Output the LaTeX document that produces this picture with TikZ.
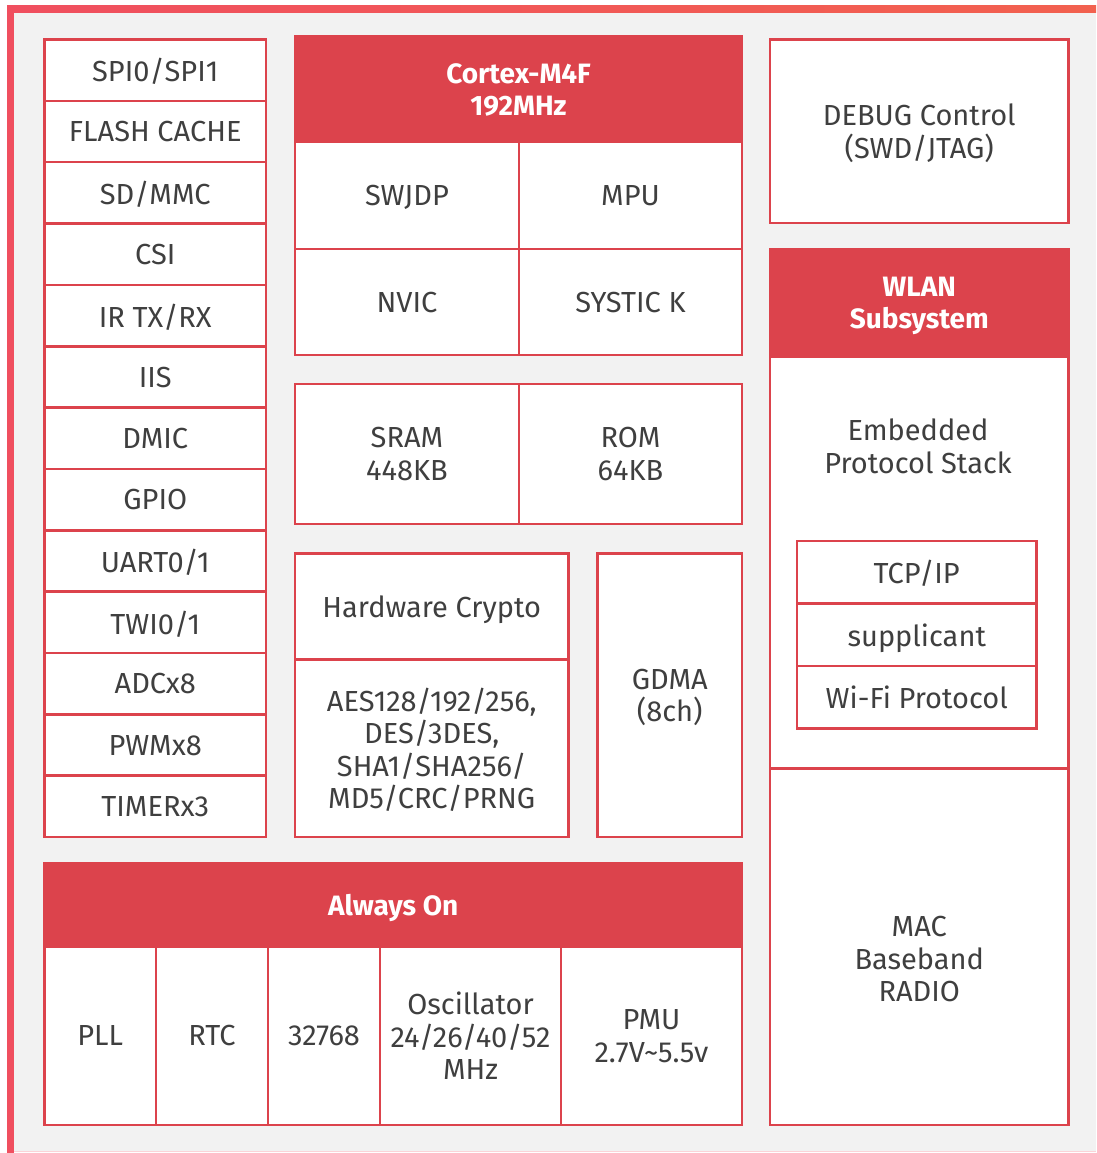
\documentclass[tikz,border=0pt]{standalone}
\usepackage{fontspec}
\setmainfont{Fira Sans}
\usetikzlibrary{positioning}
\definecolor{chipred}{HTML}{DC434C}
\definecolor{framel}{HTML}{F04F5F}
\definecolor{framer}{HTML}{F2614F}
\definecolor{panel}{HTML}{F2F2F2}
\definecolor{txtgray}{HTML}{3F3F3F}
\begin{document}
\begin{tikzpicture}[x=1pt, y=-1pt,
	blk/.style={draw=chipred, line width=2.5pt, fill=white, text=txtgray,
	align=center, inner sep=0pt, text depth=0pt, font=\fontsize{29}{32.5}\selectfont},
	hdr/.style={blk, fill=chipred, text=white,
	font=\fontsize{28}{32}\selectfont\bfseries},
	io/.style={blk, minimum width=221.5pt, minimum height=61.35pt},
	txt/.style={text=txtgray, align=center, inner sep=0pt, text depth=0pt,
	font=\fontsize{29}{32.5}\selectfont}]
\useasboundingbox (0,0) rectangle (1096,1153);
% panel and frame
\fill[panel] (14,13) rectangle (1096,1151);
\shade[left color=framel, right color=framer] (7,6) rectangle (1096,13);
\fill[framel] (7,6) rectangle (14,1153);
\draw[framel!25, line width=1pt] (14,1151.5) -- (1096,1151.5);
% peripherals
\node[io] (spi) at (155.25, 70.18) {SPI0/SPI1};
\node[io] (flash) at (155.25, 131.53) {FLASH CACHE};
\node[io] (sdmmc) at (155.25, 192.88) {SD/MMC};
\node[io] (csi) at (155.25, 254.23) {CSI};
\node[io] (irda) at (155.25, 315.58) {IR TX/RX};
\node[io] (iis) at (155.25, 376.93) {IIS};
\node[io] (dmic) at (155.25, 438.28) {DMIC};
\node[io] (gpio) at (155.25, 499.63) {GPIO};
\node[io] (uart) at (155.25, 560.98) {UART0/1};
\node[io] (twi) at (155.25, 622.33) {TWI0/1};
\node[io] (adc) at (155.25, 683.68) {ADCx8};
\node[io] (pwm) at (155.25, 745.03) {PWMx8};
\node[io] (timer) at (155.25, 806.38) {TIMERx3};
% core
\node[hdr, minimum width=447pt, minimum height=105.5pt] (cpu) at (518.5, 89.25)
	{Cortex-M4F\\192MHz};
\node[blk, minimum width=224pt, minimum height=107pt] (swjdp) at (407, 195.5) {SWJDP};
\node[blk, minimum width=223pt, minimum height=107pt] (mpu) at (630.5, 195.5) {MPU};
\node[blk, minimum width=224pt, minimum height=106pt] (nvic) at (407, 302) {NVIC};
\node[blk, minimum width=223pt, minimum height=106pt] (systick) at (630.5, 302) {SYSTIC K};
% memory
\node[blk, minimum width=224pt, minimum height=140pt] (sram) at (407, 454) {SRAM\\448KB};
\node[blk, minimum width=223pt, minimum height=140pt] (rom) at (630.5, 454) {ROM\\64KB};
% crypto and dma
\node[blk, minimum width=273.5pt, minimum height=106pt] (crypto) at (431.75, 606.5)
	{Hardware Crypto};
\node[blk, minimum width=273.5pt, minimum height=177.5pt] (algo) at (431.75, 748.25)
	{AES128/192/256,\\DES/3DES,\\SHA1/SHA256/\\MD5/CRC/PRNG};
\node[blk, minimum width=144.5pt, minimum height=283.5pt] (gdma) at (669.75, 695.25)
	{GDMA\\(8ch)};
% debug and wlan
\node[blk, minimum width=298.5pt, minimum height=183.5pt] (debug) at (919.25, 131.25)
	{DEBUG Control\\(SWD/JTAG)};
\node[hdr, minimum width=298.5pt, minimum height=107.5pt] (wlan) at (919.25, 303.25)
	{WLAN\\Subsystem};
\node[blk, minimum width=298.5pt, minimum height=411.5pt] (stack) at (919.25, 562.75) {};
\node[txt] (stacktxt) at (918, 446) {Embedded\\Protocol Stack};
\node[blk, minimum width=239.5pt, minimum height=62.5pt] (tcpip) at (916.75, 572.25) {TCP/IP};
\node[blk, minimum width=239.5pt, minimum height=62.5pt] (supp) at (916.75, 634.75) {supplicant};
\node[blk, minimum width=239.5pt, minimum height=62.5pt] (wifi) at (916.75, 697.25) {Wi-Fi Protocol};
\node[blk, minimum width=298.5pt, minimum height=356.5pt] (mac) at (919.25, 946.75) {};
\node[txt] (mactxt) at (919.25, 959) {MAC\\Baseband\\RADIO};
% always on domain
\node[hdr, minimum width=697.5pt, minimum height=83pt] (aon) at (393.25, 905) {Always On};
\node[blk, minimum width=111.5pt, minimum height=178.5pt] (pll) at (100.25, 1035.75) {PLL};
\node[blk, minimum width=112pt, minimum height=178.5pt] (rtc) at (212, 1035.75) {RTC};
\node[blk, minimum width=112pt, minimum height=178.5pt] (xtal) at (324, 1035.75) {32768};
\node[blk, minimum width=181pt, minimum height=178.5pt] (osc) at (470.5, 1035.75)
	{Oscillator\\24/26/40/52\\MHz};
\node[blk, minimum width=181pt, minimum height=178.5pt] (pmu) at (651.5, 1035.75)
	{PMU\\2.7V\textasciitilde5.5v};
\end{tikzpicture}
\end{document}
